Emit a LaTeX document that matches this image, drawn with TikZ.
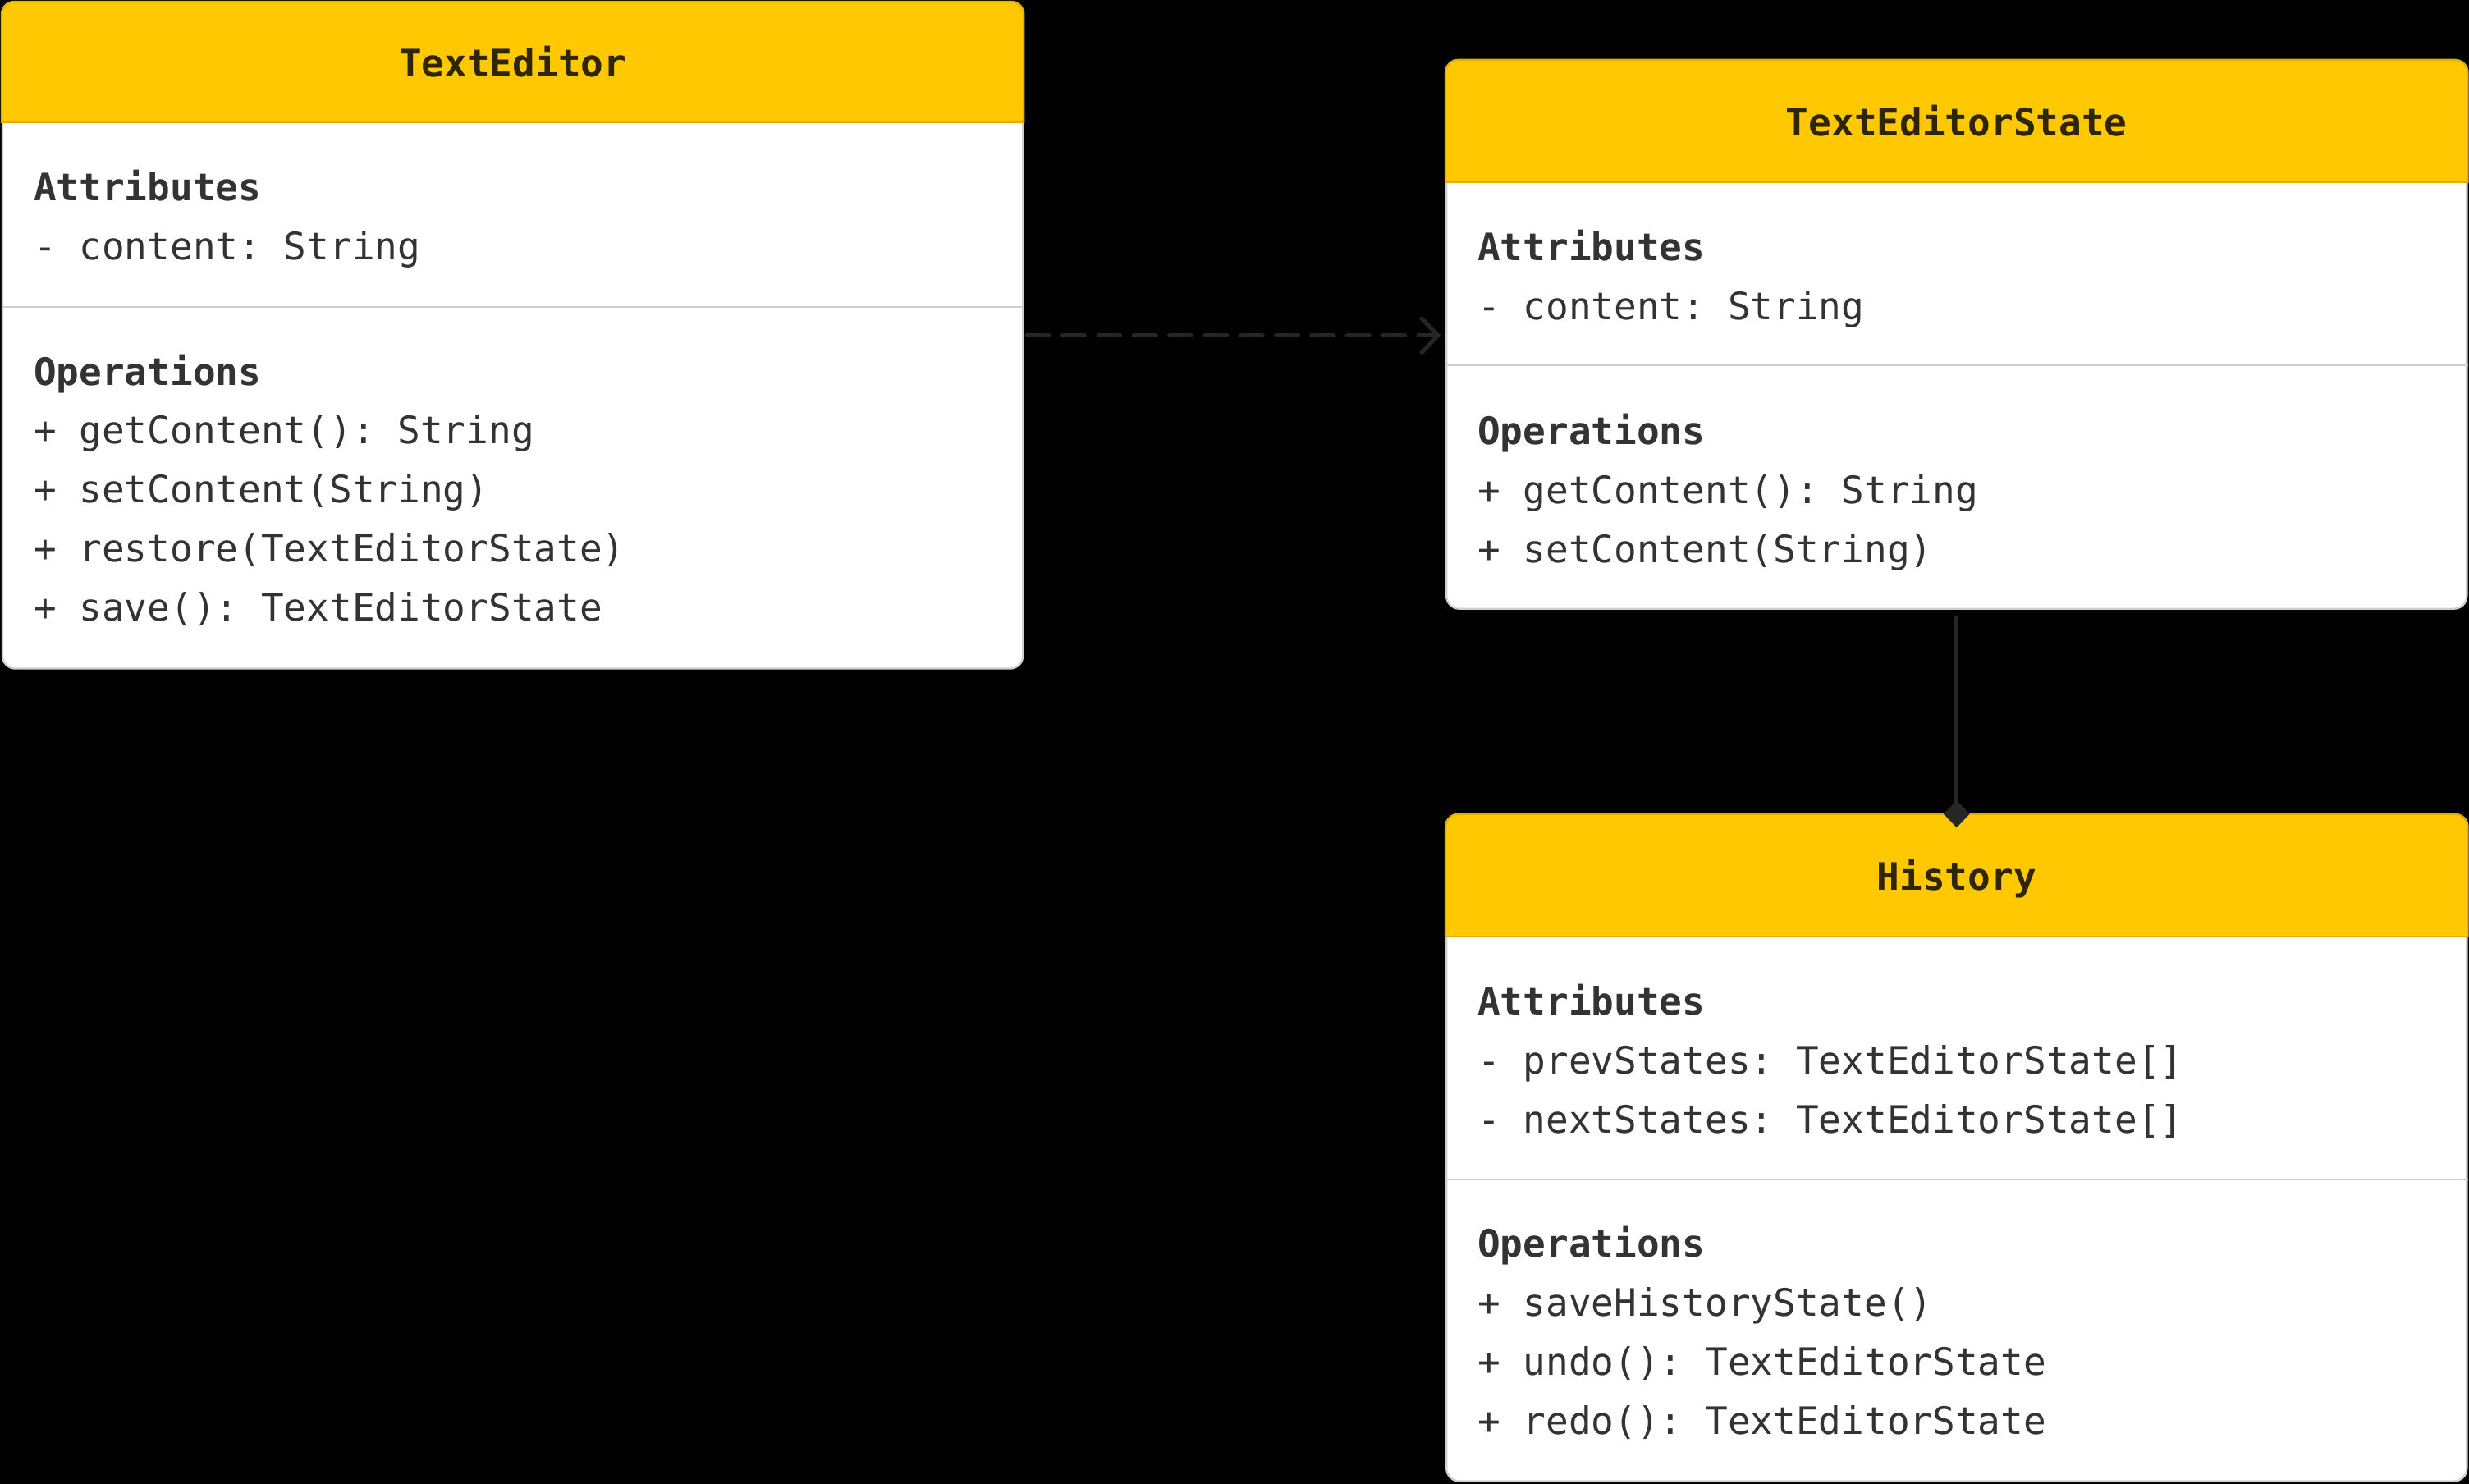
\documentclass[tikz,border=0pt]{standalone}
\usepackage{fontspec}
\setmonofont{DejaVu Sans Mono}
\usepackage{xcolor}
\usepackage{tikz}
\usetikzlibrary{arrows.meta}

\definecolor{headyellow}{HTML}{FFC800}
\definecolor{headgold}{HTML}{E3AE00}
\definecolor{boxgray}{HTML}{CFCFCF}
\definecolor{txtgray}{HTML}{333333}
\definecolor{titlebrown}{HTML}{2E2600}
\definecolor{linkgray}{HTML}{262626}

\tikzset{
  classbox/.style={draw=boxgray, fill=white, rounded corners=4pt, line width=0.6pt,
    minimum width=324pt, anchor=north west, inner sep=0pt},
  classtitle/.style={font=\ttfamily\bfseries\fontsize{12}{14}\selectfont, text=titlebrown,
    anchor=base, inner sep=0pt},
  member/.style={font=\ttfamily\fontsize{12}{14}\selectfont, text=txtgray,
    anchor=base west, inner sep=0pt},
  section/.style={member, font=\ttfamily\bfseries\fontsize{12}{14}\selectfont},
  divider/.style={boxgray, line width=0.6pt},
  headfill/.style={fill=headyellow, draw=headgold, line width=0.6pt, rounded corners=4pt},
  depend/.style={linkgray, line width=1.3pt, line cap=round, dash pattern=on 7pt off 4.3pt,
    -{Straight Barb[length=5.5pt,width=11.5pt]}, shorten <=1pt, shorten >=1.5pt},
  compose/.style={linkgray, line width=1.3pt, -{Diamond[length=8.7pt,width=8.3pt]},
    shorten <=2pt, shorten >=-4.3pt}
}

\begin{document}
\begin{tikzpicture}[x=0.5pt,y=-0.5pt]
\useasboundingbox (0,0) rectangle (1568,942.4);
\fill[black] (0,0) rectangle (1568,942.4);

% TextEditor
\node[classbox, minimum height=211.5pt] (editor) at (1,1) {};
\begin{scope}
\clip ([shift={(-3,-3)}]editor.north west) rectangle ([shift={(3,77)}]editor.north east);
\path[headfill] (editor.north west) rectangle (editor.south east);
\draw[headgold, line width=0.6pt] ([yshift=-38.5pt]editor.north west) -- ([yshift=-38.5pt]editor.north east);
\end{scope}
\draw[divider] ([yshift=-97pt]editor.north west) -- ([yshift=-97pt]editor.north east);
\node[classtitle] (editor-title) at ([shift={(0,47.5)}]editor.north) {TextEditor};
\node[section] (editor-attr) at ([shift={(20,126.5)}]editor.north west) {Attributes};
\node[member] (editor-attr0) at ([shift={(20,164)}]editor.north west) {- content: String};
\node[section] (editor-ops) at ([shift={(20,243.5)}]editor.north west) {Operations};
\foreach \txt [count=\i from 0] in {{+ getContent(): String}, {+ setContent(String)},
    {+ restore(TextEditorState)}, {+ save(): TextEditorState}}
  \node[member] (editor-op\i) at ([shift={(20,281+\i*37.5)}]editor.north west) {\txt};

% TextEditorState
\node[classbox, minimum height=174pt] (state) at (918,38) {};
\begin{scope}
\clip ([shift={(-3,-3)}]state.north west) rectangle ([shift={(3,78)}]state.north east);
\path[headfill] (state.north west) rectangle (state.south east);
\draw[headgold, line width=0.6pt] ([yshift=-39pt]state.north west) -- ([yshift=-39pt]state.north east);
\end{scope}
\draw[divider] ([yshift=-97pt]state.north west) -- ([yshift=-97pt]state.north east);
\node[classtitle] (state-title) at ([shift={(0,48.5)}]state.north) {TextEditorState};
\node[section] (state-attr) at ([shift={(20,127.5)}]state.north west) {Attributes};
\node[member] (state-attr0) at ([shift={(20,165)}]state.north west) {- content: String};
\node[section] (state-ops) at ([shift={(20,244.5)}]state.north west) {Operations};
\foreach \txt [count=\i from 0] in {{+ getContent(): String}, {+ setContent(String)}}
  \node[member] (state-op\i) at ([shift={(20,282+\i*37.5)}]state.north west) {\txt};

% History
\node[classbox, minimum height=211.5pt] (history) at (918,517) {};
\begin{scope}
\clip ([shift={(-3,-3)}]history.north west) rectangle ([shift={(3,78)}]history.north east);
\path[headfill] (history.north west) rectangle (history.south east);
\draw[headgold, line width=0.6pt] ([yshift=-39pt]history.north west) -- ([yshift=-39pt]history.north east);
\end{scope}
\draw[divider] ([yshift=-116pt]history.north west) -- ([yshift=-116pt]history.north east);
\node[classtitle] (history-title) at ([shift={(0,48.5)}]history.north) {History};
\node[section] (history-attr) at ([shift={(20,127.5)}]history.north west) {Attributes};
\foreach \txt [count=\i from 0] in {{- prevStates: TextEditorState[]}, {- nextStates: TextEditorState[]}}
  \node[member] (history-attr\i) at ([shift={(20,165+\i*37.5)}]history.north west) {\txt};
\node[section] (history-ops) at ([shift={(20,281.5)}]history.north west) {Operations};
\foreach \txt [count=\i from 0] in {{+ saveHistoryState()}, {+ undo(): TextEditorState},
    {+ redo(): TextEditorState}}
  \node[member] (history-op\i) at ([shift={(20,319+\i*37.5)}]history.north west) {\txt};

% links
\draw[depend] (editor.east) -- (editor.east -| state.west);
\draw[compose] (state.south) -- (history.north);
\end{tikzpicture}
\end{document}
